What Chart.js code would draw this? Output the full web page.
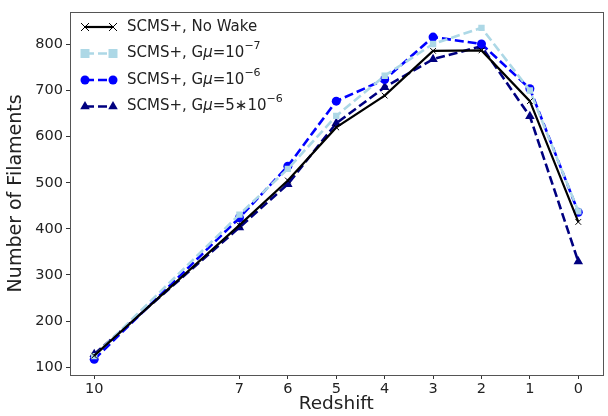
<!DOCTYPE html>
<html>
<head>
<meta charset="utf-8">
<script src="https://cdn.jsdelivr.net/npm/chart.js@4.4.1/dist/chart.umd.min.js"></script>
<style>
  html, body { margin: 0; padding: 0; background: #fff; }
  #wrap { width: 608px; height: 416px; }
</style>
</head>
<body>
<div id="wrap"><canvas id="chart" width="608" height="416"></canvas></div>
<script>
// redshift bins (x) and filament counts per run
var redshift = [10, 7, 6, 5, 4, 3, 2, 1, 0];
var noWake   = [125, 408, 505, 620, 689, 786, 787, 677, 415];
var gmu1e7   = [124, 431, 530, 645, 732, 801, 836, 700, 438];
var gmu1e6   = [117, 424, 536, 677, 724, 816, 801, 704, 436];
var gmu5e6   = [128, 403, 497, 629, 707, 768, 796, 644, 329];

var xTicks = [10, 7, 6, 5, 4, 3, 2, 1, 0];
var yTicks = [100, 200, 300, 400, 500, 600, 700, 800];

// legend text, split so the exponent can be raised
var legendText = [
    [{t: 'SCMS+, No Wake'}],
    [{t: 'SCMS+, G'}, {t: 'μ', it: true}, {t: '=10'}, {t: '−7', sup: true}],
    [{t: 'SCMS+, G'}, {t: 'μ', it: true}, {t: '=10'}, {t: '−6', sup: true}],
    [{t: 'SCMS+, G'}, {t: 'μ', it: true}, {t: '=5∗10'}, {t: '−6', sup: true}]
];

var FONT = "'DejaVu Sans', 'Liberation Sans', sans-serif";

function points(ys) {
    return redshift.map(function (z, i) { return {x: z, y: ys[i]}; });
}

function series(label, ys, color, style, dashed, radius) {
    return {
        label: label,
        data: points(ys),
        borderColor: color,
        backgroundColor: color,
        borderWidth: dashed ? 2.6 : 2.2,
        borderDash: dashed ? [9, 4] : [],
        pointStyle: style,
        pointRadius: radius,
        pointBorderColor: color,
        pointBackgroundColor: color,
        pointBorderWidth: style === 'crossRot' ? 1 : 0,
        tension: 0,
        fill: false
    };
}

var datasets = [
    series('SCMS+, No Wake', noWake, '#000000', 'crossRot', false, 4),
    series('SCMS+, Gμ=10⁻⁷', gmu1e7, '#add8e6', 'rect', true, 4.5),
    series('SCMS+, Gμ=10⁻⁶', gmu1e6, '#0000ff', 'circle', true, 4.5),
    series('SCMS+, Gμ=5∗10⁻⁶', gmu5e6, '#000080', 'triangle', true, 5.5)
];

// full box round the plot, like matplotlib spines
var frame = {
    id: 'frame',
    afterDraw: function (chart) {
        var a = chart.chartArea, ctx = chart.ctx;
        ctx.save();
        ctx.strokeStyle = '#555';
        ctx.lineWidth = 1;
        ctx.strokeRect(Math.round(a.left) + 0.5, Math.round(a.top) + 0.5,
            Math.round(a.right - a.left), Math.round(a.bottom - a.top));
        ctx.restore();
    }
};

function marker(ctx, style, x, y, r) {
    ctx.beginPath();
    if (style === 'crossRot') {
        ctx.moveTo(x - r, y - r); ctx.lineTo(x + r, y + r);
        ctx.moveTo(x + r, y - r); ctx.lineTo(x - r, y + r);
        ctx.lineWidth = 1;
        ctx.stroke();
        return;
    }
    if (style === 'rect') {
        ctx.rect(x - r, y - r, 2 * r, 2 * r);
    } else if (style === 'circle') {
        ctx.arc(x, y, r, 0, Math.PI * 2);
    } else {
        ctx.moveTo(x, y - r);
        ctx.lineTo(x + r * 0.87, y + r * 0.5);
        ctx.lineTo(x - r * 0.87, y + r * 0.5);
        ctx.closePath();
    }
    ctx.fill();
}

// matplotlib style legend: short line with a marker at each end
var legendBox = {
    id: 'legendBox',
    afterDraw: function (chart) {
        var ctx = chart.ctx, x0 = 85, x1 = 113, tx = 127, y = 27, step = 26.5;
        ctx.save();
        chart.data.datasets.forEach(function (ds, i) {
            var yy = y + i * step;
            ctx.strokeStyle = ds.borderColor;
            ctx.fillStyle = ds.borderColor;
            ctx.lineWidth = ds.borderWidth;
            ctx.setLineDash(ds.borderDash);
            ctx.beginPath();
            ctx.moveTo(x0, yy);
            ctx.lineTo(x1, yy);
            ctx.stroke();
            ctx.setLineDash([]);
            marker(ctx, ds.pointStyle, x0, yy, ds.pointRadius);
            marker(ctx, ds.pointStyle, x1, yy, ds.pointRadius);

            var cx = tx;
            ctx.fillStyle = '#222';
            ctx.textBaseline = 'middle';
            ctx.textAlign = 'left';
            legendText[i].forEach(function (p) {
                if (p.sup) {
                    ctx.font = '11px ' + FONT;
                    ctx.fillText(p.t, cx, yy - 7);
                } else {
                    ctx.font = (p.it ? 'italic ' : '') + '15px ' + FONT;
                    ctx.fillText(p.t, cx, yy);
                }
                cx += ctx.measureText(p.t).width;
            });
        });
        ctx.restore();
    }
};

new Chart(document.getElementById('chart'), {
    type: 'line',
    data: {datasets: datasets},
    plugins: [frame, legendBox],
    options: {
        responsive: false,
        animation: false,
        layout: {padding: {top: 7, right: 2, left: 0, bottom: 0}},
        plugins: {
            legend: {display: false},
            tooltip: {enabled: false}
        },
        scales: {
            x: {
                type: 'linear',
                reverse: true,
                min: -0.5,
                max: 10.5,
                afterBuildTicks: function (s) {
                    s.ticks = xTicks.map(function (v) { return {value: v}; });
                },
                afterFit: function (s) { s.height = 41; },
                grid: {drawOnChartArea: false, drawTicks: true, tickLength: 4, tickColor: '#333'},
                border: {display: false},
                ticks: {color: '#222', font: {family: FONT, size: 14.5}, padding: 2, maxRotation: 0, autoSkip: false},
                title: {display: true, text: 'Redshift', color: '#222',
                    font: {family: FONT, size: 18.5}, padding: {top: 0, bottom: 1}}
            },
            y: {
                type: 'linear',
                min: 83,
                max: 871,
                afterBuildTicks: function (s) {
                    s.ticks = yTicks.map(function (v) { return {value: v}; });
                },
                afterFit: function (s) { s.width = 70; },
                grid: {drawOnChartArea: false, drawTicks: true, tickLength: 4, tickColor: '#333'},
                border: {display: false},
                ticks: {color: '#222', font: {family: FONT, size: 14.5}, padding: 3, autoSkip: false},
                title: {display: true, text: 'Number of Filaments', color: '#222',
                    font: {family: FONT, size: 19}, padding: {top: 5, bottom: 0}}
            }
        }
    }
});
</script>
</body>
</html>
